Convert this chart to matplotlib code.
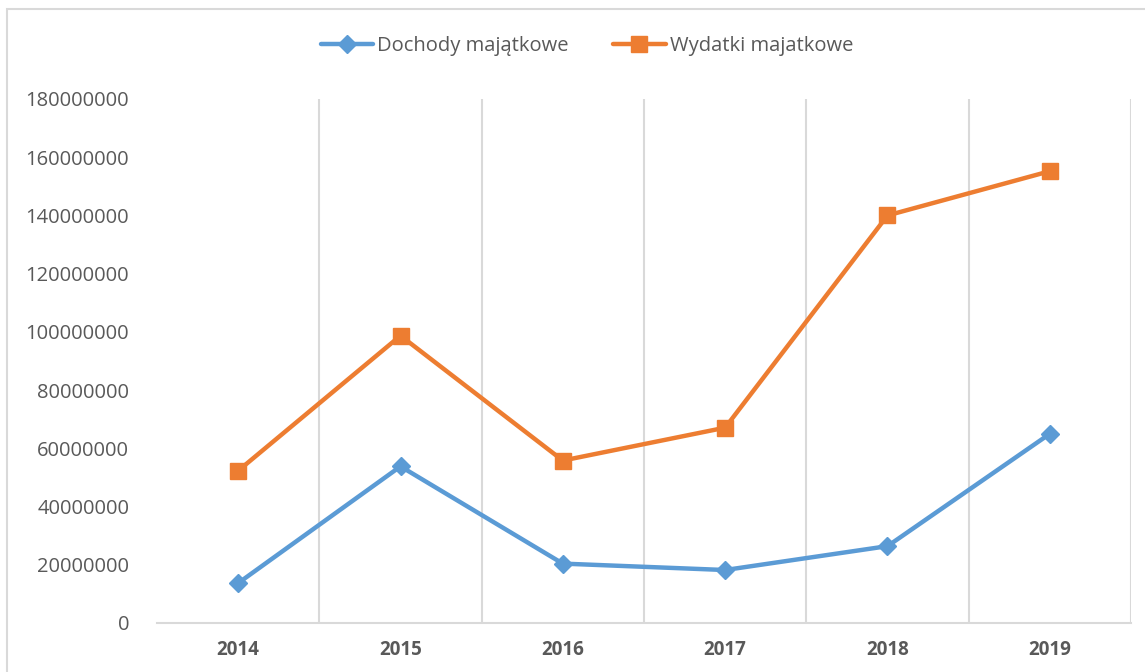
import matplotlib.pyplot as plt
from matplotlib.patches import Rectangle

years = ["2014", "2015", "2016", "2017", "2018", "2019"]
dochody = [13.7e6, 53.8e6, 20.4e6, 18.2e6, 26.4e6, 65.0e6]
wydatki = [52.3e6, 98.7e6, 55.8e6, 67.1e6, 140.0e6, 155.2e6]
yticks = list(range(0, 180000001, 20000000))

plt.rcParams['font.family'] = ['Open Sans', 'DejaVu Sans']

W, H = 1145, 672
fig = plt.figure(figsize=(W / 100, H / 100), dpi=100)
ax = fig.add_axes([157 / W, 1 - 623 / H, (1131 - 157) / W, (623 - 99) / H])

x = list(range(len(years)))
ax.plot(x, dochody, color='#5B9BD5', lw=3.2, marker='D', ms=9.5,
        label='Dochody majątkowe', solid_capstyle='round')
ax.plot(x, wydatki, color='#ED7D31', lw=3.2, marker='s', ms=11,
        label='Wydatki majatkowe', solid_capstyle='round')

ax.set_xlim(-0.5, len(years) - 0.5)
ax.set_ylim(0, 180000000)
ax.set_yticks(yticks)
ax.set_yticklabels([str(v) for v in yticks], fontsize=14.5, color='#595959')
ax.set_xticks(x)
ax.set_xticklabels(years, fontsize=13.5, fontweight='bold', color='#595959')
ax.tick_params(length=0)
ax.tick_params(axis='y', pad=20)
ax.tick_params(axis='x', pad=12)

# vertical gridlines between categories
for b in [i + 0.5 for i in range(len(years))]:
    ax.axvline(b, color='#D9D9D9', lw=1.5, zorder=0)

for s in ['top', 'right', 'left']:
    ax.spines[s].set_visible(False)
ax.spines['bottom'].set_color('#D9D9D9')
ax.spines['bottom'].set_linewidth(1.5)

fig.legend(loc='center', bbox_to_anchor=(587 / W, 1 - 46 / H), ncol=2,
           frameon=False, fontsize=14.5, labelcolor='#595959',
           handlelength=2.6, handletextpad=0.2, columnspacing=2.2)

# chart border (cut on right/bottom)
fig.patches.append(Rectangle((7 / W, -0.1), 1.2, 1.1 + (1 - 9 / H) - 1 + 0.0,
                             transform=fig.transFigure, fill=False,
                             edgecolor='#D9D9D9', lw=1.5))

fig.savefig('out.png', dpi=100)
